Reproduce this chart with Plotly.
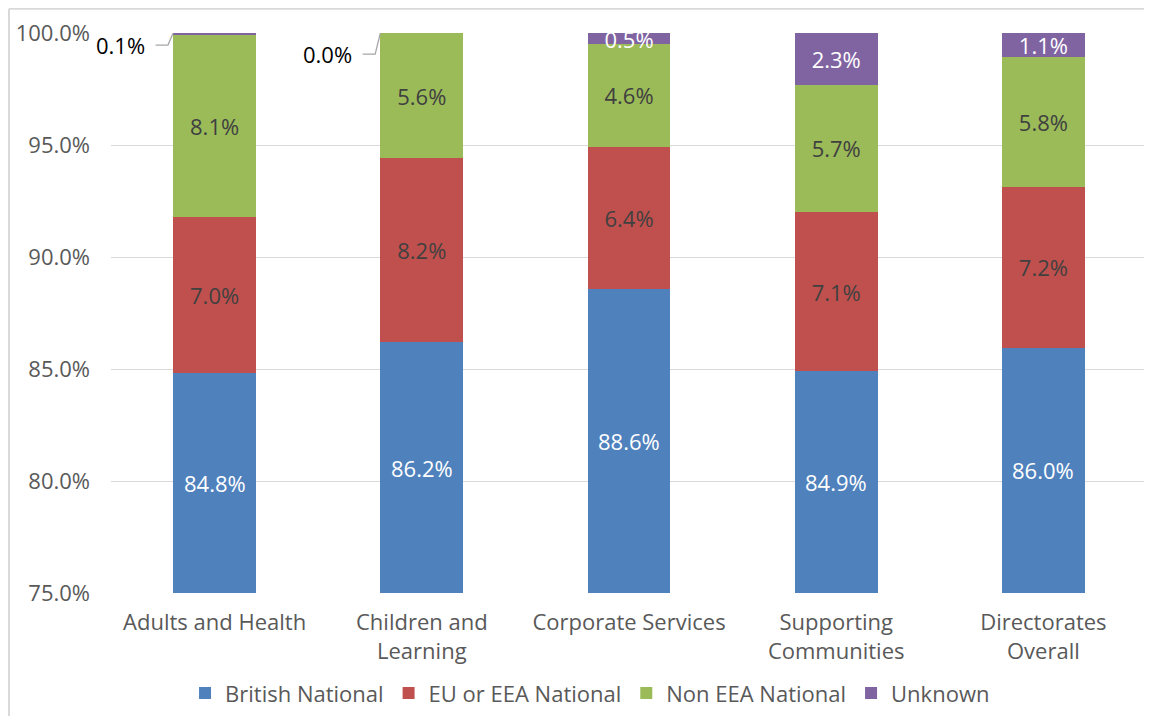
import plotly.graph_objects as go

categories = ["Adults and Health", "Children and<br>Learning", "Corporate Services",
              "Supporting<br>Communities", "Directorates<br>Overall"]
british = [84.8, 86.2, 88.57, 84.91, 85.96]
eu_eea = [7.0, 8.2, 6.36, 7.09, 7.16]
non_eea = [8.1, 5.6, 4.57, 5.70, 5.79]
unknown = [0.1, 0.0, 0.50, 2.30, 1.09]

series = [
    ("British National", british, "#4f81bd", "#ffffff"),
    ("EU or EEA National", eu_eea, "#c0504d", "#404040"),
    ("Non EEA National", non_eea, "#9bbb59", "#404040"),
    ("Unknown", unknown, "#8064a2", "#ffffff"),
]

FONT = "Open Sans"
FS = 22
Y_MIN, Y_MAX = 75, 100
xs = list(range(len(categories)))
BAR_W = 0.4
MIN_INLINE = 0.3

fig = go.Figure()
for k, (name, vals, color, tcolor) in enumerate(series):
    if k == 0:
        labels = [""] * len(vals)  # placed at centre of visible part below
    else:
        labels = [f"{v:.1f}%" if v >= MIN_INLINE else "" for v in vals]
    fig.add_trace(go.Bar(
        name=name, x=xs, y=vals, width=BAR_W,
        marker=dict(color=color, line=dict(width=0)),
        text=labels, textposition="inside", insidetextanchor="middle",
        textangle=0, constraintext="none",
        textfont=dict(family=FONT, size=FS, color=tcolor),
        hoverinfo="skip",
    ))

# British labels centred in the visible part of the bar
for i, v in enumerate(british):
    fig.add_annotation(x=xs[i], y=(Y_MIN + v) / 2, text=f"{v:.1f}%", showarrow=False,
                       xanchor="center", yanchor="middle",
                       font=dict(family=FONT, size=FS, color="#ffffff"))

# Callouts for tiny segments
for i, v in enumerate(unknown):
    if v < MIN_INLINE:
        top = british[i] + eu_eea[i] + non_eea[i] + v
        label_y = top - (0.54 if i == 0 else 0.94)
        left = xs[i] - BAR_W / 2
        fig.add_trace(go.Scatter(
            x=[left - 0.085, left - 0.025, left], y=[label_y, label_y, top],
            mode="lines", line=dict(color="#a6a6a6", width=1.3),
            showlegend=False, hoverinfo="skip", cliponaxis=False,
        ))
        fig.add_annotation(
            x=left - 0.125, y=label_y, text=f"{v:.1f}%", showarrow=False,
            xanchor="right", yanchor="middle",
            font=dict(family=FONT, size=FS, color="#000000"),
        )

fig.update_layout(
    width=1144, height=708,
    margin=dict(l=103, r=5, t=25, b=123, autoexpand=False),
    paper_bgcolor="white", plot_bgcolor="white",
    barmode="stack",
    font=dict(family=FONT, size=FS, color="#595959"),
    uniformtext=dict(minsize=FS, mode="show"),
    showlegend=True,
    legend=dict(orientation="h", x=0.4624, xanchor="center", y=-0.179, yanchor="middle",
                traceorder="normal", bgcolor="rgba(0,0,0,0)",
                font=dict(family=FONT, size=FS, color="#595959"),
                itemwidth=30, tracegroupgap=0),
    shapes=[
        dict(type="line", xref="paper", yref="paper",
             x0=-0.0985, x1=-0.0985, y0=-0.3, y1=1.0434,
             line=dict(color="#d9d9d9", width=2), layer="below"),
        dict(type="line", xref="paper", yref="paper",
             x0=-0.0985, x1=1.01, y0=1.0434, y1=1.0434,
             line=dict(color="#d9d9d9", width=2), layer="below"),
    ],
)
fig.update_xaxes(
    tickmode="array", tickvals=xs, ticktext=categories,
    range=[-0.5, len(categories) - 0.5], showgrid=False, zeroline=False,
    showline=False, ticks="", ticklabelstandoff=14,
    tickfont=dict(family=FONT, size=FS, color="#595959"),
)
fig.update_yaxes(
    range=[Y_MIN, Y_MAX], dtick=5, tickformat=".1f", ticksuffix="%",
    showgrid=True, gridcolor="#d9d9d9", gridwidth=1.3, zeroline=False,
    showline=False, ticks="", ticklabelstandoff=20,
    tickfont=dict(family=FONT, size=FS, color="#595959"),
)

fig.write_html("out.html")
